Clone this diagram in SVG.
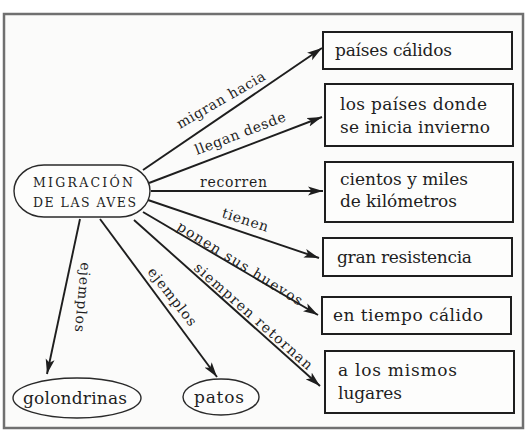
<svg xmlns="http://www.w3.org/2000/svg" width="530" height="432" viewBox="0 0 530 432">
  <style>
    .frame { fill: #fbfbfa; stroke: #707070; stroke-width: 2.5; }
    .box { fill: #fdfdfc; stroke: #1e1e1e; stroke-width: 2; }
    .oval { fill: #fdfdfc; stroke: #2a2a2a; stroke-width: 1.4; }
    .edge { fill: none; stroke: #1e1e1e; stroke-width: 1.9; marker-end: url(#head); }
    text { font-family: "DejaVu Serif", "Liberation Serif", serif; fill: #1e1e1e; }
    .box-t { font-size: 17px; }
    .lbl { font-size: 14px; }
    .caps { font-size: 12.5px; }
  </style>
  <defs>
    <marker id="head" markerUnits="userSpaceOnUse" markerWidth="16" markerHeight="10" refX="15" refY="5" orient="auto">
      <path d="M0,0.5 L15,5 L0,9.5 L3.5,5 Z" fill="#1e1e1e"/>
    </marker>
  </defs>

  <rect width="530" height="432" fill="#ffffff"/>
  <rect class="frame" x="4" y="14" width="519" height="414"/>

  <!-- connectors and their labels -->
  <g id="connectors">
    <line class="edge" x1="143" y1="170" x2="322" y2="48"/>
    <line class="edge" x1="149" y1="183" x2="322" y2="117"/>
    <line class="edge" x1="151" y1="191" x2="323" y2="191"/>
    <line class="edge" x1="148" y1="200" x2="319" y2="258"/>
    <line class="edge" x1="143" y1="212" x2="318" y2="315"/>
    <line class="edge" x1="134" y1="220" x2="320" y2="386"/>
    <line class="edge" x1="80" y1="219" x2="47" y2="374"/>
    <line class="edge" x1="100" y1="219" x2="217" y2="377"/>

    <text class="lbl" transform="translate(180,129) rotate(-30)" textLength="100" lengthAdjust="spacing">migran hacia</text>
    <text class="lbl" transform="translate(197,155) rotate(-21)" textLength="96" lengthAdjust="spacing">llegan desde</text>
    <text class="lbl" x="200" y="187" textLength="67" lengthAdjust="spacing">recorren</text>
    <text class="lbl" transform="translate(221,217) rotate(18)" textLength="48" lengthAdjust="spacing">tienen</text>
    <text class="lbl" transform="translate(176,229) rotate(32)" textLength="145" lengthAdjust="spacing">ponen sus huevos</text>
    <text class="lbl" transform="translate(193,269) rotate(41.5)" textLength="153" lengthAdjust="spacing">siempren retornan</text>
    <text class="lbl" transform="translate(81,262) rotate(95)" textLength="70" lengthAdjust="spacing">ejemplos</text>
    <text class="lbl" transform="translate(147,272) rotate(52)" textLength="70" lengthAdjust="spacing">ejemplos</text>
  </g>

  <!-- central concept -->
  <g id="migracion">
    <rect class="oval" x="14" y="165" width="136" height="52" rx="30" ry="26"/>
    <text class="caps" x="33" y="187" textLength="100" lengthAdjust="spacing">MIGRACIÓN</text>
    <text class="caps" x="33" y="207" textLength="103" lengthAdjust="spacing">DE LAS AVES</text>
  </g>

  <g id="paises-calidos">
    <rect class="box" x="323" y="32" width="189" height="37"/>
    <text class="box-t" x="335" y="56" textLength="117" lengthAdjust="spacing">países cálidos</text>
  </g>

  <g id="paises-invierno">
    <rect class="box" x="325" y="84" width="188" height="62"/>
    <text class="box-t" x="340" y="110" textLength="147" lengthAdjust="spacing">los países donde</text>
    <text class="box-t" x="340" y="133" textLength="150" lengthAdjust="spacing">se inicia invierno</text>
  </g>

  <g id="kilometros">
    <rect class="box" x="325" y="162" width="188" height="60"/>
    <text class="box-t" x="340" y="185" textLength="128" lengthAdjust="spacing">cientos y miles</text>
    <text class="box-t" x="340" y="207" textLength="117" lengthAdjust="spacing">de kilómetros</text>
  </g>

  <g id="resistencia">
    <rect class="box" x="323" y="238" width="189" height="38"/>
    <text class="box-t" x="337" y="263" textLength="135" lengthAdjust="spacing">gran resistencia</text>
  </g>

  <g id="tiempo-calido">
    <rect class="box" x="322" y="297" width="189" height="37"/>
    <text class="box-t" x="333" y="321" textLength="150" lengthAdjust="spacing">en tiempo cálido</text>
  </g>

  <g id="mismos-lugares">
    <rect class="box" x="325" y="351" width="189" height="62"/>
    <text class="box-t" x="338" y="376" textLength="119" lengthAdjust="spacing">a los mismos</text>
    <text class="box-t" x="338" y="399" textLength="64" lengthAdjust="spacing">lugares</text>
  </g>

  <g id="golondrinas">
    <ellipse class="oval" cx="77" cy="398" rx="64" ry="20"/>
    <text class="box-t" x="23" y="404" textLength="104" lengthAdjust="spacing">golondrinas</text>
  </g>

  <g id="patos">
    <ellipse class="oval" cx="221" cy="397" rx="38" ry="18"/>
    <text class="box-t" x="194" y="403" textLength="50" lengthAdjust="spacing">patos</text>
  </g>
</svg>
